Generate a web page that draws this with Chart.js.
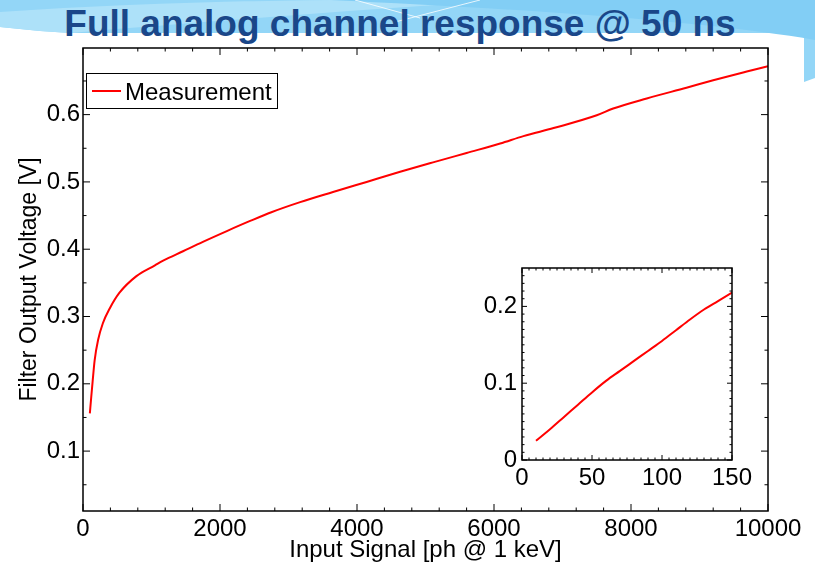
<!DOCTYPE html>
<html>
<head>
<meta charset="utf-8">
<script src="https://cdn.jsdelivr.net/npm/chart.js@4"></script>
<style>
  html, body { margin: 0; padding: 0; width: 815px; height: 566px; overflow: hidden; background: #fff; }
  #title { position: absolute; left: 0; top: 5px; width: 800px; text-align: center;
           font: bold 37px "Liberation Sans", Arial, sans-serif; line-height: 37px; color: #1a4789; white-space: nowrap; }
  #main { position: absolute; left: 0; top: 0; }
  #inset { position: absolute; left: 470px; top: 260px; }
</style>
</head>
<body>
<svg width="815" height="566" style="position:absolute;left:0;top:0">
  <rect x="0" y="0" width="815" height="566" fill="#ffffff"/>
  <path d="M0,0 H815 V78 L804,82 V33 H70 Q35,31 0,27 Z" fill="#93d6f7"/>
  <path d="M0,12 C120,4 250,0 360,0 L520,0 C380,8 200,22 70,33 Q35,31 0,27 Z" fill="#ade1f9"/>
  <path d="M330,0 H815 V40 C700,20 500,8 330,0 Z" fill="#82cef5"/>
  <line x1="355" y1="0" x2="420" y2="18" stroke="#ffffff" stroke-width="1" opacity="0.8"/>
  <line x1="480" y1="0" x2="395" y2="22" stroke="#ffffff" stroke-width="1" opacity="0.8"/>
</svg>
<div id="title">Full analog channel response @ 50 ns</div>
<canvas id="main" width="815" height="566"></canvas>
<canvas id="inset" width="290" height="240"></canvas>
<script>
// ---------- data ----------
const seriesName = "Measurement";
const xTitle = "Input Signal [ph @ 1 keV]";
const yTitle = "Filter Output Voltage [V]";

const xMain = [100, 120, 140, 170, 220, 290, 390, 530, 780, 1050, 1170, 1460, 1750, 2100, 2440, 2750, 3170, 3650, 4140, 4630, 5110, 5600, 6090, 6430, 6870, 7500, 7740, 8230, 8810, 9200, 9690, 10000];
const yMain = [0.156, 0.180, 0.203, 0.235, 0.265, 0.290, 0.312, 0.335, 0.360, 0.376, 0.383, 0.397, 0.411, 0.427, 0.442, 0.455, 0.470, 0.485, 0.500, 0.515, 0.529, 0.543, 0.557, 0.568, 0.580, 0.599, 0.609, 0.624, 0.640, 0.651, 0.664, 0.672];

const xInset = [10, 20, 30, 40, 50, 60, 70, 80, 90, 100, 110, 120, 130, 140, 150];
const yInset = [0.025, 0.040, 0.056, 0.072, 0.088, 0.103, 0.116, 0.129, 0.142, 0.155, 0.169, 0.183, 0.196, 0.207, 0.218];

const xTicksMain = [0, 2000, 4000, 6000, 8000, 10000];
const xMinorMain = [400, 800, 1200, 1600, 2400, 2800, 3200, 3600, 4400, 4800, 5200, 5600, 6400, 6800, 7200, 7600, 8400, 8800, 9200, 9600];
const yTicksMain = [0.1, 0.2, 0.3, 0.4, 0.5, 0.6];
const yMinorMain = [0.05, 0.15, 0.25, 0.35, 0.45, 0.55, 0.65];

const xTicksInset = [0, 50, 100, 150];
const xMinorInset = [5, 10, 15, 20, 25, 30, 35, 40, 45, 55, 60, 65, 70, 75, 80, 85, 90, 95, 105, 110, 115, 120, 125, 130, 135, 140, 145];
const yTicksInset = [0, 0.1, 0.2];
const yMinorInset = [0.01, 0.02, 0.03, 0.04, 0.05, 0.06, 0.07, 0.08, 0.09, 0.11, 0.12, 0.13, 0.14, 0.15, 0.16, 0.17, 0.18, 0.19, 0.21, 0.22, 0.23, 0.24];

// ---------- helpers ----------
const FONT = '"Liberation Sans", Arial, sans-serif';
Chart.defaults.font.family = FONT;
Chart.defaults.color = '#000';

function framePlugin(id, xMaj, xMin, yMaj, yMin, majLen, minLen, frameW, whiteBg) {
  return {
    id: id,
    beforeDatasetsDraw(chart) {
      if (!whiteBg) return;
      const a = chart.chartArea, ctx = chart.ctx;
      ctx.save(); ctx.fillStyle = '#fff';
      ctx.fillRect(a.left, a.top, a.right - a.left, a.bottom - a.top);
      ctx.restore();
    },
    afterDatasetsDraw(chart) {
      const { ctx, chartArea: a, scales: { x, y } } = chart;
      ctx.save();
      ctx.strokeStyle = '#000';
      ctx.lineWidth = 1;
      ctx.beginPath();
      const vt = (vals, len) => vals.forEach(v => {
        const p = x.getPixelForValue(v);
        ctx.moveTo(p, a.bottom); ctx.lineTo(p, a.bottom - len);
        ctx.moveTo(p, a.top); ctx.lineTo(p, a.top + len);
      });
      const ht = (vals, len) => vals.forEach(v => {
        const p = y.getPixelForValue(v);
        ctx.moveTo(a.left, p); ctx.lineTo(a.left + len, p);
        ctx.moveTo(a.right, p); ctx.lineTo(a.right - len, p);
      });
      vt(xMaj, majLen); vt(xMin, minLen); ht(yMaj, majLen); ht(yMin, minLen);
      ctx.stroke();
      ctx.lineWidth = frameW;
      ctx.strokeRect(a.left, a.top, a.right - a.left, a.bottom - a.top);
      ctx.restore();
    }
  };
}

const legendPlugin = {
  id: 'boxLegend',
  afterDraw(chart) {
    const { ctx, chartArea: a } = chart;
    const ds = chart.data.datasets[0];
    const bx = a.left + 3, by = a.top + 25, bw = 191, bh = 35;
    ctx.save();
    ctx.fillStyle = '#fff';
    ctx.fillRect(bx, by, bw, bh);
    ctx.strokeStyle = '#000'; ctx.lineWidth = 1;
    ctx.strokeRect(bx + 0.5, by + 0.5, bw, bh);
    ctx.strokeStyle = ds.borderColor; ctx.lineWidth = 2;
    ctx.beginPath(); ctx.moveTo(bx + 6, by + 18); ctx.lineTo(bx + 35, by + 18); ctx.stroke();
    ctx.fillStyle = '#000';
    ctx.font = '24px ' + FONT;
    ctx.textBaseline = 'alphabetic'; ctx.textAlign = 'left';
    ctx.fillText(ds.label, bx + 39, by + 26.5);
    ctx.restore();
  }
};

function axis(min, max, ticks, fitFn, tickPad, fmt, title) {
  const o = {
    type: 'linear', min: min, max: max,
    grid: { display: false, drawTicks: false },
    border: { display: false },
    afterBuildTicks: s => { s.ticks = ticks.map(v => ({ value: v })); },
    afterFit: s => { fitFn(s); s.paddingLeft = 0; s.paddingRight = 0; s.paddingTop = 0; s.paddingBottom = 0; },
    ticks: { color: '#000', font: { size: 24, family: FONT }, padding: tickPad, maxRotation: 0, minRotation: 0, autoSkip: false, callback: fmt }
  };
  if (title) o.title = title;
  return o;
}

const fmt = v => String(+Number(v).toFixed(2));

// ---------- main chart ----------
new Chart(document.getElementById('main'), {
  type: 'line',
  data: {
    datasets: [{
      label: seriesName,
      data: xMain.map((x, i) => ({ x: x, y: yMain[i] })),
      borderColor: '#ff0000', borderWidth: 2, pointRadius: 0, fill: false,
      cubicInterpolationMode: 'monotone'
    }]
  },
  options: {
    responsive: false, animation: false, devicePixelRatio: 1,
    layout: { padding: { left: 0, top: 48, right: 47, bottom: 0 } },
    plugins: { legend: { display: false }, tooltip: { enabled: false } },
    scales: {
      x: axis(0, 10000, xTicksMain, s => { s.height = 55; }, 4, fmt,
        { display: true, text: xTitle, color: '#000', font: { size: 24, family: FONT }, padding: { top: 0, bottom: 1 } }),
      y: axis(0.011, 0.699, yTicksMain, s => { s.width = 83; }, 3, fmt,
        { display: true, text: yTitle, color: '#000', font: { size: 23, family: FONT }, padding: { top: 16, bottom: 0 } })
    }
  },
  plugins: [framePlugin('frameMain', xTicksMain, xMinorMain, yTicksMain, yMinorMain, 7, 3.5, 1.5, false), legendPlugin]
});

// ---------- inset chart ----------
new Chart(document.getElementById('inset'), {
  type: 'line',
  data: {
    datasets: [{
      label: seriesName,
      data: xInset.map((x, i) => ({ x: x, y: yInset[i] })),
      borderColor: '#ff0000', borderWidth: 2, pointRadius: 0, fill: false,
      cubicInterpolationMode: 'monotone'
    }]
  },
  options: {
    responsive: false, animation: false, devicePixelRatio: 1,
    layout: { padding: { left: 0, top: 8, right: 28, bottom: 0 } },
    plugins: { legend: { display: false }, tooltip: { enabled: false } },
    scales: {
      x: axis(0, 150, xTicksInset, s => { s.height = 40; }, 4, fmt, null),
      y: axis(0, 0.25, yTicksInset, s => { s.width = 52; }, 5, fmt, null)
    }
  },
  plugins: [framePlugin('frameInset', xTicksInset, xMinorInset, yTicksInset, yMinorInset, 5, 2.5, 1.5, true)]
});
</script>
</body>
</html>
